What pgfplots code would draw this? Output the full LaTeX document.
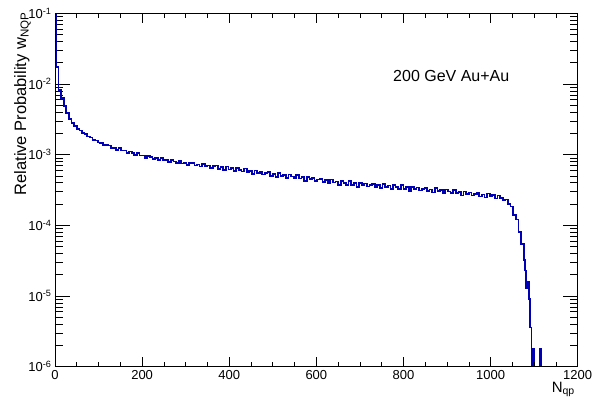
\documentclass[border=0pt]{standalone}
\usepackage{pgfplots}
\pgfplotsset{compat=1.18}
\usepackage{fontspec}
\setmainfont{Liberation Sans}
\definecolor{hblue}{RGB}{0,0,180}
\begin{document}
\begin{tikzpicture}
\path[use as bounding box] (0pt,0pt) rectangle (593pt,398pt);
\begin{axis}[
  at={(55pt,31.3pt)}, anchor=south west, scale only axis,
  width=522.7pt, height=353.4pt,
  xmin=0, xmax=1200, ymode=log, ymin=1e-6, ymax=1e-1,
  xtick=\empty,
  ytick={1e-6,1e-5,1e-4,1e-3,1e-2,1e-1},
  yticklabels={10\textsuperscript{-6},10\textsuperscript{-5},10\textsuperscript{-4},10\textsuperscript{-3},10\textsuperscript{-2},10\textsuperscript{-1}},
  minor ytick={2e-6,3e-6,4e-6,5e-6,6e-6,7e-6,8e-6,9e-6,2e-5,3e-5,4e-5,5e-5,6e-5,7e-5,8e-5,9e-5,2e-4,3e-4,4e-4,5e-4,6e-4,7e-4,8e-4,9e-4,2e-3,3e-3,4e-3,5e-3,6e-3,7e-3,8e-3,9e-3,2e-2,3e-2,4e-2,5e-2,6e-2,7e-2,8e-2,9e-2},
  major tick length=15pt, minor tick length=8pt,
  tick style={black, line width=0.6pt},
  axis line style={line width=0.8pt},
  yticklabel style={font=\fontsize{13}{15}\selectfont},
]
\addplot[const plot, draw=hblue, line width=1.7pt] table {
x y
0 0.3
2 1.75e-2
8 8.3e-3
14 6.3e-3
20 4.85e-3
26 3.88e-3
32 3.22e-3
38 2.78e-3
44 2.52e-3
50 2.30e-3
56 2.19e-3
62 2.03e-3
68 1.96e-3
74 1.80e-3
80 1.75e-3
86 1.62e-3
92 1.59e-3
98 1.49e-3
104 1.46e-3
110 1.37e-3
116 1.36e-3
122 1.35e-3
128 1.24e-3
134 1.25e-3
140 1.16e-3
146 1.23e-3
152 1.14e-3
158 1.14e-3
164 1.05e-3
170 1.11e-3
176 1.05e-3
182 1.00e-3
188 1.06e-3
194 0.97e-3
200 0.97e-3
206 0.90e-3
212 0.96e-3
218 0.93e-3
224 0.86e-3
230 0.89e-3
236 0.835e-3
242 0.894e-3
248 0.837e-3
254 0.847e-3
260 0.779e-3
266 0.834e-3
272 0.80e-3
278 0.766e-3
284 0.819e-3
290 0.75e-3
296 0.763e-3
302 0.715e-3
308 0.77e-3
314 0.755e-3
320 0.703e-3
326 0.725e-3
332 0.682e-3
338 0.731e-3
344 0.689e-3
350 0.703e-3
356 0.648e-3
362 0.695e-3
368 0.70e-3
374 0.627e-3
380 0.665e-3
386 0.60e-3
392 0.682e-3
398 0.617e-3
404 0.643e-3
410 0.581e-3
416 0.649e-3
422 0.605e-3
428 0.575e-3
434 0.64e-3
440 0.568e-3
446 0.592e-3
452 0.528e-3
458 0.596e-3
464 0.555e-3
470 0.577e-3
476 0.522e-3
482 0.547e-3
488 0.563e-3
494 0.504e-3
500 0.533e-3
506 0.482e-3
512 0.549e-3
518 0.498e-3
524 0.518e-3
530 0.469e-3
536 0.524e-3
542 0.489e-3
548 0.465e-3
554 0.517e-3
560 0.46e-3
566 0.478e-3
572 0.427e-3
578 0.482e-3
584 0.449e-3
590 0.468e-3
596 0.423e-3
602 0.444e-3
608 0.457e-3
614 0.409e-3
620 0.434e-3
626 0.391e-3
632 0.444e-3
638 0.402e-3
644 0.417e-3
650 0.376e-3
656 0.421e-3
662 0.395e-3
668 0.376e-3
674 0.421e-3
680 0.375e-3
686 0.393e-3
692 0.352e-3
698 0.399e-3
704 0.374e-3
710 0.39e-3
716 0.354e-3
722 0.375e-3
728 0.386e-3
734 0.348e-3
740 0.37e-3
746 0.336e-3
752 0.384e-3
758 0.349e-3
764 0.365e-3
770 0.33e-3
776 0.37e-3
782 0.347e-3
788 0.33e-3
794 0.369e-3
800 0.33e-3
806 0.345e-3
812 0.309e-3
818 0.35e-3
824 0.328e-3
830 0.342e-3
836 0.31e-3
842 0.327e-3
848 0.337e-3
854 0.303e-3
860 0.323e-3
866 0.292e-3
872 0.334e-3
878 0.303e-3
884 0.316e-3
890 0.287e-3
896 0.32e-3
902 0.30e-3
908 0.286e-3
914 0.319e-3
920 0.284e-3
926 0.296e-3
932 0.265e-3
938 0.30e-3
944 0.28e-3
950 0.292e-3
956 0.264e-3
962 0.279e-3
968 0.288e-3
974 0.257e-3
980 0.274e-3
986 0.247e-3
992 0.282e-3
998 0.256e-3
1004 0.266e-3
1010 0.239e-3
1016 0.264e-3
1022 0.243e-3
1028 0.226e-3
1034 0.231e-3
1040 0.199e-3
1046 0.184e-3
1052 0.14e-3
1058 0.121e-3
1064 0.08e-3
1070 5.5e-5
1076 3.2e-5
1079 2.3e-5
1082 1.3e-5
1085 1.6e-5
1088 9e-6
1091 3.6e-6
1094 1e-9
1098 1.8e-6
1100 1e-9
1113 1.8e-6
1115 1e-9
1200 1e-9
};
\end{axis}
\begin{axis}[
  at={(55pt,31.3pt)}, anchor=south west, scale only axis,
  width=522.7pt, height=353.4pt,
  xmin=0, xmax=1200, ymode=log, ymin=1e-6, ymax=1e-1,
  ytick=\empty,
  xtick={0,200,400,600,800,1000,1200},
  minor x tick num=3,
  major tick length=10pt, minor tick length=5pt,
  tick style={black, line width=0.6pt},
  axis line style={line width=0.8pt},
  xticklabel style={font=\fontsize{13}{15}\selectfont},
  /pgf/number format/assume math mode=true,
  /pgf/number format/1000 sep={},
  scaled ticks=false,
]
\end{axis}
\node[rotate=90, anchor=base east, inner sep=0, font=\fontsize{16.5}{18}\selectfont] at (26pt,386pt) {Relative Probability w\textsubscript{NQP}};
\node[anchor=north east, inner sep=0, font=\fontsize{15}{17}\selectfont] at (575pt,16pt) {N\textsubscript{qp}};
\node[anchor=west, inner sep=0, font=\fontsize{16}{18}\selectfont] at (393pt,322pt) {200 GeV Au+Au};
\end{tikzpicture}
\end{document}
